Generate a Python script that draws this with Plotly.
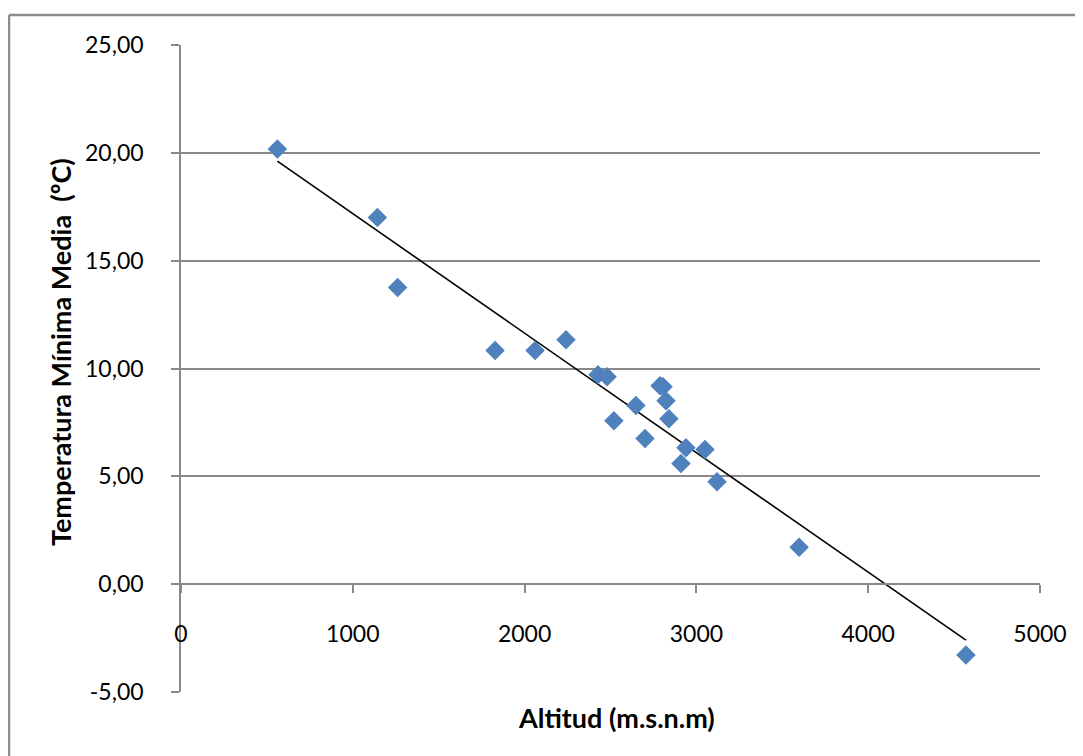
import numpy as np
import plotly.graph_objects as go

altitud = [561, 1143, 1261, 1828, 2061, 2241, 2427, 2480, 2520, 2648, 2701,
           2788, 2806, 2823, 2840, 2910, 2939, 3050, 3120, 3598, 4569]
temp_min = [20.18, 17.00, 13.76, 10.83, 10.83, 11.33, 9.71, 9.62, 7.58, 8.28, 6.75,
            9.20, 9.15, 8.51, 7.67, 5.59, 6.33, 6.24, 4.75, 1.71, -3.28]

x_ticks = [0, 1000, 2000, 3000, 4000, 5000]
y_ticks = [-5, 0, 5, 10, 15, 20, 25]
y_tick_text = [f"{v:.2f}".replace(".", ",") for v in y_ticks]

x_title = "Altitud (m.s.n.m)"
y_title = "Temperatura Mínima Media  (ºC)"

# the page body has an 8px margin; reference pixel p maps to figure pixel p - 8
OFF = 8
W, H = 1083 - OFF, 756 - OFF
L, R, T, B = 181 - OFF, 1040 - OFF, 45 - OFF, 692 - OFF

slope, intercept = np.polyfit(altitud, temp_min, 1)
xl = np.array([min(altitud), max(altitud)])
yl = slope * xl + intercept

grid = "#898989"
font_fam = "Lato, 'Open Sans', sans-serif"

fig = go.Figure()
fig.add_trace(go.Scatter(x=xl, y=yl, mode="lines",
                         line=dict(color="black", width=1.6), showlegend=False))
fig.add_trace(go.Scatter(x=altitud, y=temp_min, mode="markers",
                         marker=dict(symbol="diamond", size=15, color="#4F81BD",
                                     line=dict(width=0)),
                         showlegend=False))

def px_x(p):
    return (p - OFF - L) / (R - L)

def px_y(p):
    return (B - (p - OFF)) / (B - T)

border = dict(color="#8C8C8C", width=2.5)

fig.update_layout(
    width=W, height=H,
    margin=dict(l=L, r=W - R, t=T, b=H - B, pad=0),
    paper_bgcolor="white", plot_bgcolor="white",
    font=dict(family=font_fam, size=23, color="black"),
    xaxis=dict(range=[0, 5000], tickvals=x_ticks, tickformat="d",
               showgrid=False, zeroline=False,
               showline=True, linecolor=grid, linewidth=1.6,
               ticks="outside", ticklen=8, tickcolor=grid, tickwidth=1.6,
               anchor="free", position=5 / 30, ticklabelstandoff=21),
    yaxis=dict(range=[-5, 25], tickvals=y_ticks, ticktext=y_tick_text,
               showgrid=True, gridcolor=grid, gridwidth=1.6, zeroline=False,
               showline=True, linecolor=grid, linewidth=1.6,
               ticks="outside", ticklen=8, tickcolor=grid, tickwidth=1.6,
               ticklabelstandoff=23),
    annotations=[
        dict(text="<b>" + x_title + "</b>", xref="paper", yref="paper",
             x=px_x(616), y=px_y(717), xanchor="center", yanchor="middle",
             showarrow=False, font=dict(size=27, family=font_fam)),
        dict(text="<b>" + y_title + "</b>", xref="paper", yref="paper",
             x=px_x(60), y=px_y(352), xanchor="center", yanchor="middle",
             showarrow=False, textangle=-90,
             font=dict(size=27, family=font_fam)),
    ],
    shapes=[
        dict(type="line", xref="paper", yref="paper",
             x0=px_x(9), x1=px_x(1090), y0=px_y(15), y1=px_y(15),
             line=border, layer="below"),
        dict(type="line", xref="paper", yref="paper",
             x0=px_x(9), x1=px_x(9), y0=px_y(15), y1=px_y(770),
             line=border, layer="below"),
    ],
)

fig.write_html("out.html")
